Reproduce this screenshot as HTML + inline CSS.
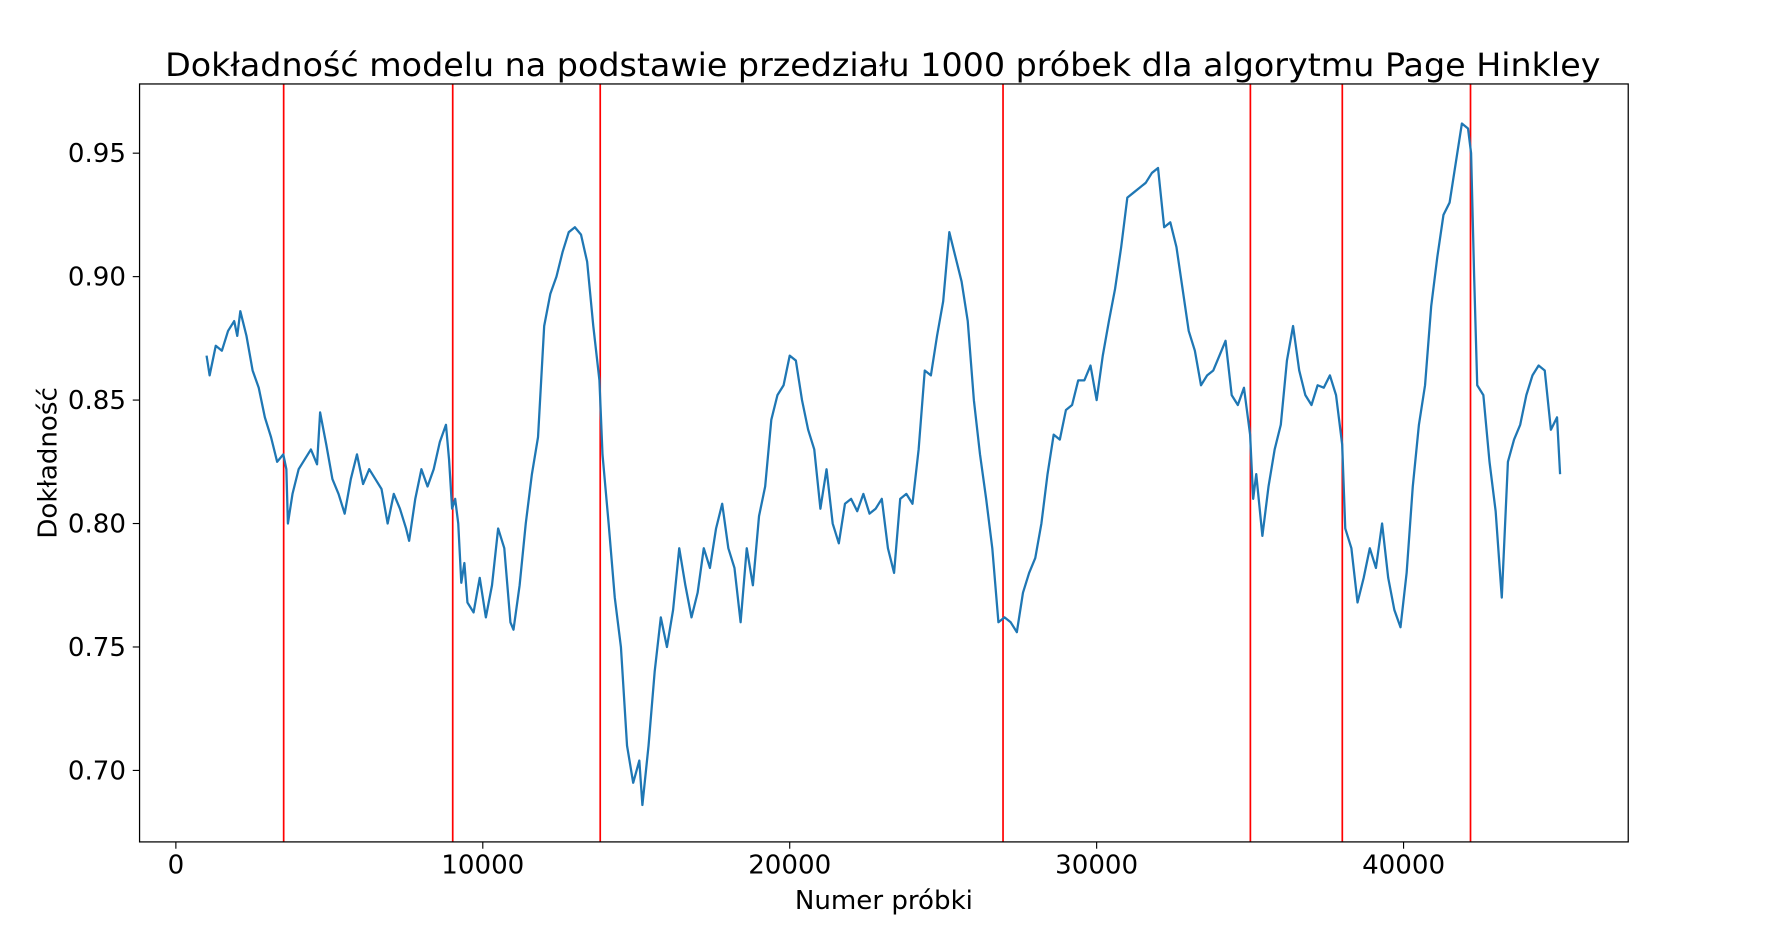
<!DOCTYPE html>
<html><head><meta charset="utf-8"><style>
html,body{margin:0;padding:0;background:#fff;}
svg{display:block;font-family:"DejaVu Sans","Liberation Sans",sans-serif;}
</style></head><body>
<svg id="chart" width="1778" height="948" viewBox="0 0 1567 835.5" preserveAspectRatio="none" xmlns="http://www.w3.org/2000/svg">
<rect width="1567" height="835.5" fill="#fff"/>
<text x="778" y="67" font-size="28" text-anchor="middle" textLength="1265" lengthAdjust="spacingAndGlyphs">Dokładność modelu na podstawie przedziału 1000 próbek dla algorytmu Page Hinkley</text>
<g id="grid"></g>
<g id="marks"></g>
<rect x="123" y="74" width="1312" height="668" fill="none" stroke="#000" stroke-width="1.1"/>
<g id="ticks"></g>
<text x="779" y="801" font-size="23" text-anchor="middle">Numer próbki</text>
<text x="0" y="0" font-size="23" text-anchor="middle" transform="translate(50,408) rotate(-90)">Dokładność</text>
</svg>
<script>
const xTicks = [0, 10000, 20000, 30000, 40000];
const yTicks = [0.70, 0.75, 0.80, 0.85, 0.90, 0.95];
const driftPoints = [3512, 9020, 13826, 26950, 35009, 38004, 42181];
const sampleX = [1000,1100,1300,1500,1700,1900,2000,2100,2300,2500,2700,2900,3100,3300,3500,3600,3650,3800,4000,4200,4400,4600,4700,4900,5100,5300,5500,5700,5900,6100,6300,6500,6700,6900,7100,7300,7500,7600,7800,8000,8200,8400,8600,8800,8900,9000,9100,9200,9300,9400,9500,9700,9900,10100,10300,10500,10700,10900,11000,11200,11400,11600,11800,12000,12200,12400,12600,12800,13000,13200,13400,13600,13800,13900,14100,14300,14500,14700,14900,15100,15200,15400,15600,15800,16000,16200,16400,16600,16800,17000,17200,17400,17600,17800,18000,18200,18400,18600,18800,19000,19200,19400,19600,19800,20000,20200,20400,20600,20800,21000,21200,21400,21600,21800,22000,22200,22400,22600,22800,23000,23200,23400,23600,23800,24000,24200,24400,24600,24800,25000,25200,25400,25600,25800,26000,26200,26400,26600,26800,27000,27200,27400,27600,27800,28000,28200,28400,28600,28800,29000,29200,29400,29600,29800,30000,30200,30400,30600,30800,31000,31200,31400,31600,31800,32000,32200,32400,32600,32800,33000,33200,33400,33600,33800,34000,34200,34400,34600,34800,35000,35100,35200,35400,35600,35800,36000,36200,36400,36600,36800,37000,37200,37400,37600,37800,38000,38100,38300,38500,38700,38900,39100,39300,39500,39700,39900,40100,40300,40500,40700,40900,41100,41300,41500,41700,41900,42100,42200,42300,42400,42600,42800,43000,43200,43400,43600,43800,44000,44200,44400,44600,44800,45000,45100];
const accuracy = [0.868,0.86,0.872,0.870,0.878,0.882,0.876,0.886,0.876,0.862,0.855,0.843,0.835,0.825,0.828,0.822,0.800,0.812,0.822,0.826,0.830,0.824,0.845,0.832,0.818,0.812,0.804,0.818,0.828,0.816,0.822,0.818,0.814,0.800,0.812,0.806,0.798,0.793,0.810,0.822,0.815,0.822,0.833,0.840,0.826,0.806,0.810,0.800,0.776,0.784,0.768,0.764,0.778,0.762,0.775,0.798,0.790,0.760,0.757,0.775,0.800,0.820,0.835,0.880,0.893,0.900,0.910,0.918,0.920,0.917,0.906,0.880,0.858,0.828,0.800,0.770,0.750,0.710,0.695,0.704,0.686,0.710,0.740,0.762,0.750,0.765,0.790,0.775,0.762,0.772,0.790,0.782,0.798,0.808,0.790,0.782,0.760,0.790,0.775,0.803,0.815,0.842,0.852,0.856,0.868,0.866,0.850,0.838,0.830,0.806,0.822,0.800,0.792,0.808,0.810,0.805,0.812,0.804,0.806,0.810,0.790,0.780,0.810,0.812,0.808,0.830,0.862,0.860,0.876,0.890,0.918,0.908,0.898,0.882,0.850,0.828,0.810,0.790,0.760,0.762,0.760,0.756,0.772,0.780,0.786,0.800,0.820,0.836,0.834,0.846,0.848,0.858,0.858,0.864,0.850,0.868,0.882,0.895,0.912,0.932,0.934,0.936,0.938,0.942,0.944,0.920,0.922,0.912,0.895,0.878,0.870,0.856,0.860,0.862,0.868,0.874,0.852,0.848,0.855,0.836,0.810,0.820,0.795,0.815,0.830,0.840,0.866,0.880,0.862,0.852,0.848,0.856,0.855,0.860,0.852,0.832,0.798,0.790,0.768,0.778,0.790,0.782,0.800,0.778,0.765,0.758,0.780,0.815,0.840,0.856,0.888,0.908,0.925,0.930,0.946,0.962,0.960,0.950,0.900,0.856,0.852,0.825,0.805,0.770,0.825,0.834,0.840,0.852,0.860,0.864,0.862,0.838,0.843,0.820];

const NS = 'http://www.w3.org/2000/svg';
function xs(v){ return 155 + (v - 0) * (1237 - 155) / 40000; }
function ys(v){ return 135 + (0.95 - v) * (679 - 135) / 0.25; }

const marks = document.getElementById('marks');
const ticks = document.getElementById('ticks');

driftPoints.forEach(d => {
  const l = document.createElementNS(NS, 'line');
  
  
  l.setAttribute('x1', xs(d)); l.setAttribute('x2', xs(d));
  l.setAttribute('y1', 74); l.setAttribute('y2', 742);
  l.setAttribute('stroke', '#ff0000'); l.setAttribute('stroke-width', '1.5');
  marks.appendChild(l);
});

const path = document.createElementNS(NS, 'path');


path.setAttribute('d', sampleX.map((x, i) => (i ? 'L' : 'M') + xs(x).toFixed(2) + ' ' + ys(accuracy[i]).toFixed(2)).join(' '));
path.setAttribute('fill', 'none'); path.setAttribute('stroke', '#1f77b4');
path.setAttribute('stroke-width', '2'); path.setAttribute('stroke-linejoin', 'round');
marks.appendChild(path);

xTicks.forEach(t => {
  const l = document.createElementNS(NS, 'line');
  
  
  l.setAttribute('x1', xs(t)); l.setAttribute('x2', xs(t));
  l.setAttribute('y1', 742); l.setAttribute('y2', 748);
  l.setAttribute('stroke', '#000');
  ticks.appendChild(l);
  const tx = document.createElementNS(NS, 'text');
  
  
  tx.setAttribute('x', xs(t)); tx.setAttribute('y', 770);
  tx.setAttribute('font-size', '23'); tx.setAttribute('text-anchor', 'middle');
  tx.textContent = String(t);
  ticks.appendChild(tx);
});

yTicks.forEach(t => {
  const l = document.createElementNS(NS, 'line');
  
  
  l.setAttribute('x1', 117); l.setAttribute('x2', 123);
  l.setAttribute('y1', ys(t)); l.setAttribute('y2', ys(t));
  l.setAttribute('stroke', '#000');
  ticks.appendChild(l);
  const tx = document.createElementNS(NS, 'text');
  
  
  tx.setAttribute('x', 111); tx.setAttribute('y', ys(t) + 8);
  tx.setAttribute('font-size', '23'); tx.setAttribute('text-anchor', 'end');
  tx.textContent = t.toFixed(2);
  ticks.appendChild(tx);
});
</script>
</body></html>
